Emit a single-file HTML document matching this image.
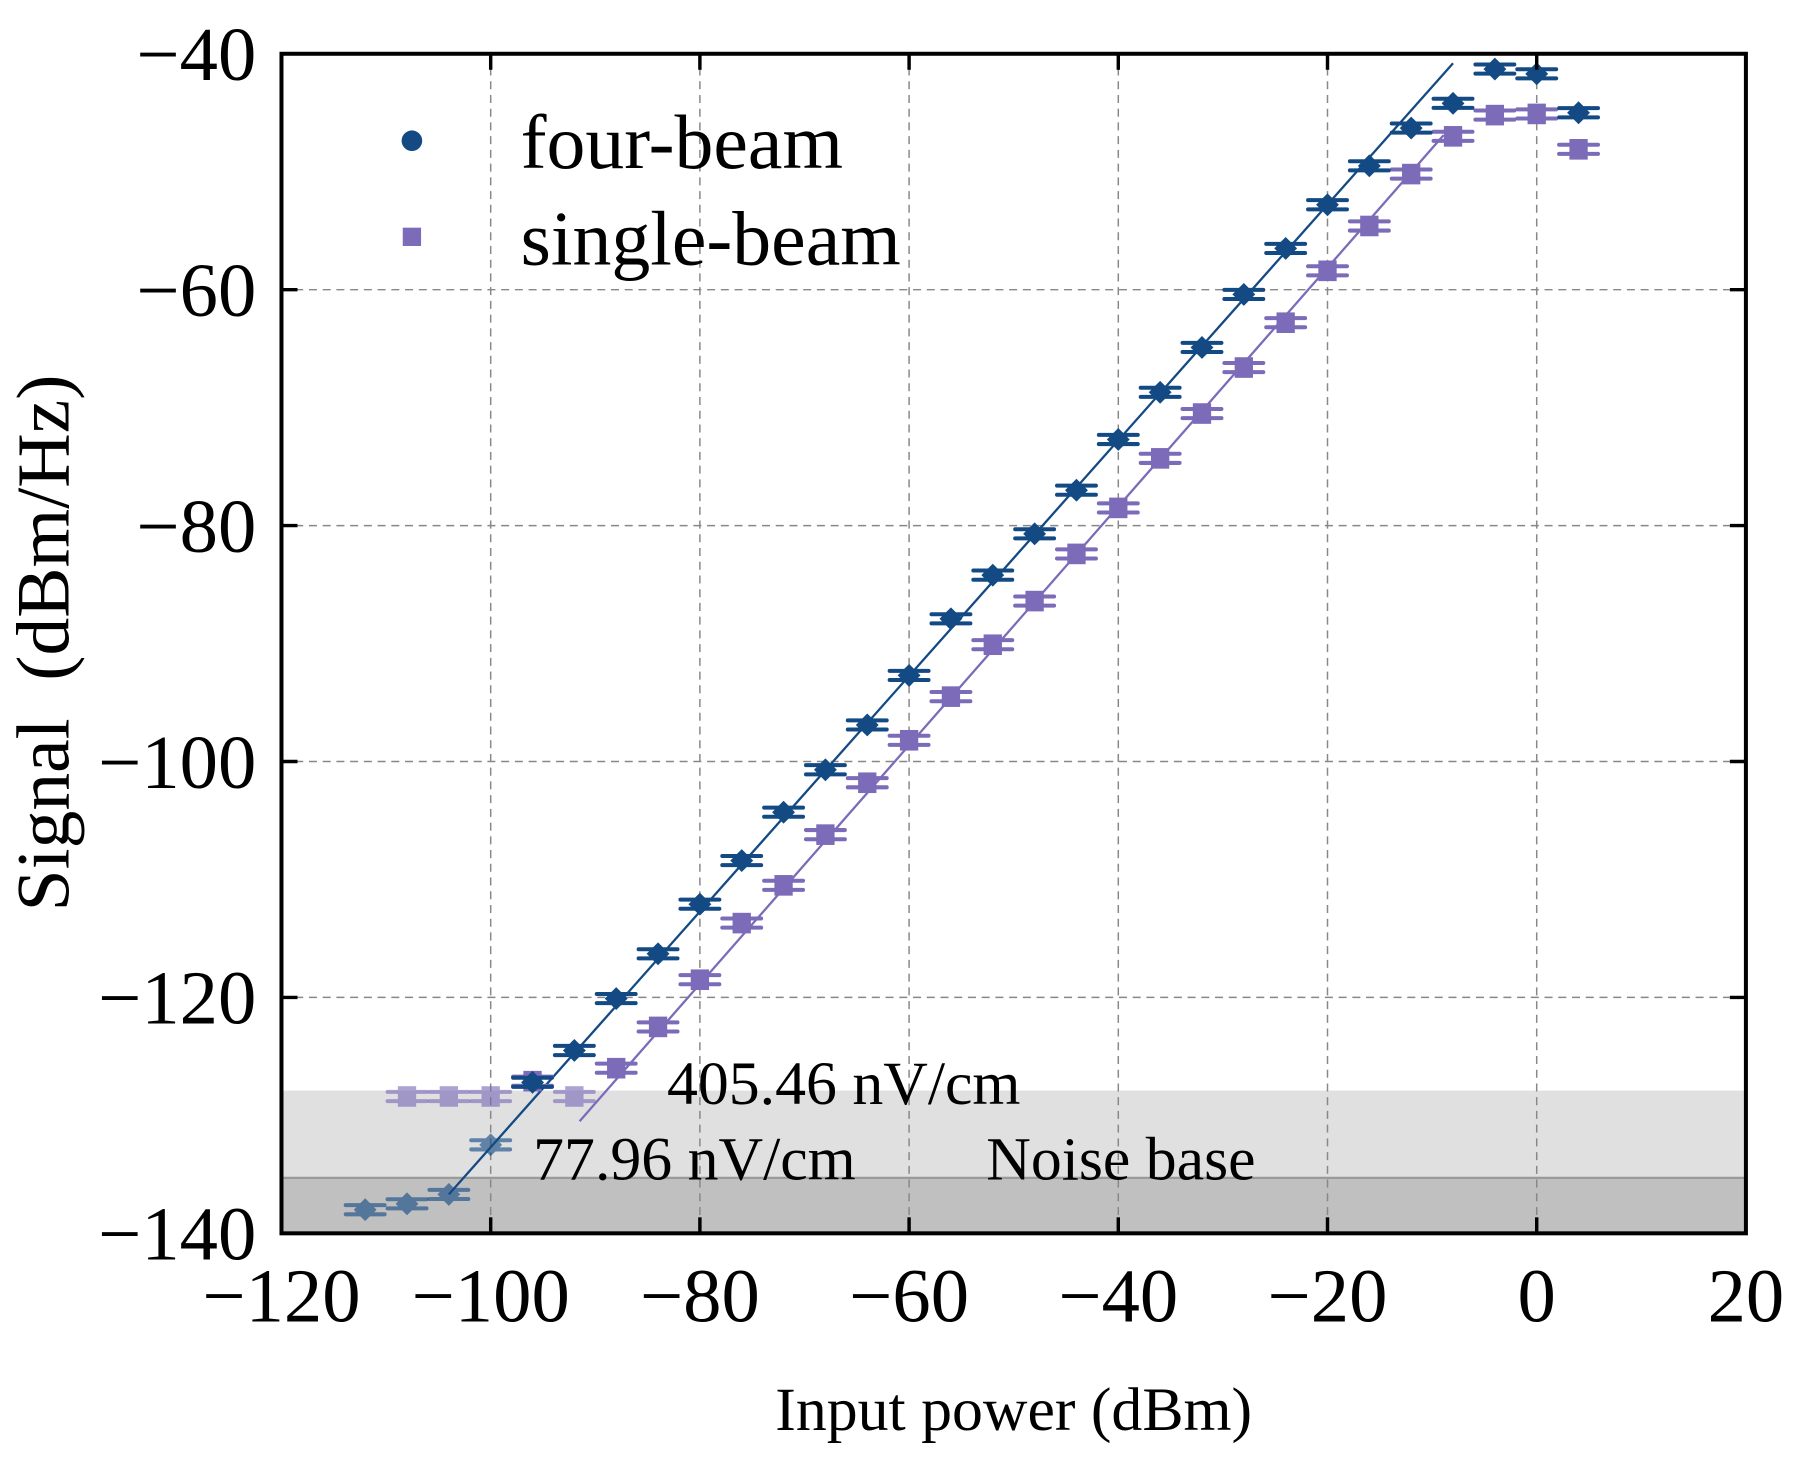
<!DOCTYPE html>
<html><head><meta charset="utf-8"><style>
html,body{margin:0;padding:0;background:#fff}
svg{display:block}
text{font-family:"Liberation Serif",serif;fill:#000}
</style></head><body>
<svg id="chart" width="1794" height="1461" viewBox="0 0 1568 1277" xmlns="http://www.w3.org/2000/svg">
<g id="bands"></g>
<g id="grid"></g>
<g id="fits"></g>
<g id="marks"></g>
<g id="axes"></g>
<g id="labels"></g>
</svg>
<script>
const xCats = [-112,-108,-104,-100,-96,-92,-88,-84,-80,-76,-72,-68,-64,-60,-56,-52,-48,-44,-40,-36,-32,-28,-24,-20,-16,-12,-8,-4,0,4];
const fourBeam = [-138.0,-137.5,-136.7,-132.5,-127.2,-124.5,-120.1,-116.3,-112.1,-108.4,-104.3,-100.7,-96.9,-92.7,-87.9,-84.2,-80.7,-77.0,-72.7,-68.7,-64.9,-60.4,-56.5,-52.8,-49.5,-46.3,-44.2,-41.3,-41.7,-45.0];
const singleX = [-108,-104,-100,-96,-92,-88,-84,-80,-76,-72,-68,-64,-60,-56,-52,-48,-44,-40,-36,-32,-28,-24,-20,-16,-12,-8,-4,0,4];
const singleBeam = [-128.4,-128.4,-128.4,-127.1,-128.4,-126.0,-122.5,-118.5,-113.7,-110.5,-106.2,-101.8,-98.2,-94.5,-90.1,-86.4,-82.4,-78.5,-74.3,-70.5,-66.6,-62.8,-58.4,-54.6,-50.2,-47.0,-45.2,-45.1,-48.1];
const fourFit = [[-104,-136.7],[-8,-40.8]];
const singleFit = [[-91.5,-130.5],[-8.9,-46.9]];
const xTicks = [-120,-100,-80,-60,-40,-20,0,20];
const yTicks = [-40,-60,-80,-100,-120,-140];
const noiseLevels = [-127.9,-135.3];

const L=246,R=1526,T=47,B=1078;
const X=v=>L+(v+120)/140*(R-L);
const Y=v=>T+(-40-v)/100*(B-T);
const NS='http://www.w3.org/2000/svg';
function mk(tag,attrs,parent){const e=document.createElementNS(NS,tag);for(const k in attrs)e.setAttribute(k,attrs[k]);parent.appendChild(e);return e;}
const g=id=>document.getElementById(id);

let b1=mk('rect',{x:L,y:Y(noiseLevels[0]),width:R-L,height:B-Y(noiseLevels[0]),fill:'#e0e0e0'},g('bands'));


let b2=mk('rect',{x:L,y:Y(noiseLevels[1]),width:R-L,height:B-Y(noiseLevels[1]),fill:'#c0c0c0'},g('bands'));


mk('line',{x1:L,x2:R,y1:Y(noiseLevels[1]),y2:Y(noiseLevels[1]),stroke:'#9a9a9a','stroke-width':2},g('bands'));

xTicks.slice(1,-1).forEach(v=>{const l=mk('line',{x1:X(v),x2:X(v),y1:T,y2:B,stroke:'#888','stroke-width':1.3,'stroke-dasharray':'7,5'},g('grid'));

});
yTicks.slice(1,-1).forEach(v=>{const l=mk('line',{x1:L,x2:R,y1:Y(v),y2:Y(v),stroke:'#888','stroke-width':1.3,'stroke-dasharray':'7,5'},g('grid'));

});

let f1=mk('line',{x1:X(fourFit[0][0]),y1:Y(fourFit[0][1]),x2:X(fourFit[1][0]),y2:Y(fourFit[1][1]),stroke:'#134a84','stroke-width':2},g('fits'));


let f2=mk('line',{x1:X(singleFit[0][0]),y1:Y(singleFit[0][1]),x2:X(singleFit[1][0]),y2:Y(singleFit[1][1]),stroke:'#7b6bb8','stroke-width':2},g('fits'));



function point(x,y,color,shape,name){
  const cx=X(x),cy=Y(y);
  const inNoise=y<noiseLevels[0];
  const gg=mk('g',{opacity:inNoise?0.62:1},g('marks'));
  
  
  mk('line',{x1:cx-17,x2:cx+17,y1:cy-4,y2:cy-4,stroke:color,'stroke-width':3.5,'stroke-linecap':'round'},gg);
  mk('line',{x1:cx-17,x2:cx+17,y1:cy+4,y2:cy+4,stroke:color,'stroke-width':3.5,'stroke-linecap':'round'},gg);
  if(shape==='d') mk('polygon',{points:`${cx},${cy-10} ${cx+10},${cy} ${cx},${cy+10} ${cx-10},${cy}`,fill:color},gg);
  else mk('rect',{x:cx-8,y:cy-9,width:16,height:18,fill:color},gg);
}
singleX.forEach((x,i)=>point(x,singleBeam[i],'#7b6bb8','s','single-beam-point'));
xCats.forEach((x,i)=>point(x,fourBeam[i],'#134a84','d','four-beam-point'));

const ax=g('axes');
let fr=mk('rect',{x:L,y:T,width:R-L,height:B-T,fill:'none',stroke:'#000','stroke-width':3.5},ax);


xTicks.slice(1,-1).forEach(v=>{mk('line',{x1:X(v),x2:X(v),y1:B,y2:B-14,stroke:'#000','stroke-width':3},ax);mk('line',{x1:X(v),x2:X(v),y1:T,y2:T+14,stroke:'#000','stroke-width':3},ax);});
yTicks.slice(1,-1).forEach(v=>{mk('line',{x1:L,x2:L+14,y1:Y(v),y2:Y(v),stroke:'#000','stroke-width':3},ax);mk('line',{x1:R,x2:R-14,y1:Y(v),y2:Y(v),stroke:'#000','stroke-width':3},ax);});

const lb=g('labels');
const fmt=v=>v<0?'\u2212'+(-v):String(v);
xTicks.forEach(v=>{const t=mk('text',{x:X(v),y:1155,'font-size':67,'text-anchor':'middle'},lb);t.textContent=fmt(v);

});
yTicks.forEach(v=>{const t=mk('text',{x:224,y:Y(v)+23,'font-size':67,'text-anchor':'end'},lb);t.textContent=fmt(v);

});
function txt(s,x,y,size,name,extra){const t=mk('text',Object.assign({x:x,y:y,'font-size':size},extra||{}),lb);t.textContent=s;

return t;}
txt('Input power (dBm)',886,1250,54,'x-axis-title',{'text-anchor':'middle'});
const yt=txt('Signal\u2002(dBm/Hz)',0,0,66,'y-axis-title',{'text-anchor':'middle',transform:'translate(60,562) rotate(-90)'});
txt('405.46 nV/cm',583,965,54,'annotation-single-beam-sensitivity');
txt('77.96 nV/cm',466,1031,54,'annotation-four-beam-sensitivity');
txt('Noise base',862,1031,54,'noise-base-label');
const lg=mk('g',{},lb);


mk('circle',{cx:360,cy:123,r:9,fill:'#134a84'},lg);
mk('rect',{x:352,y:199,width:16,height:16,fill:'#7b6bb8'},lg);
txt('four-beam',455,147,68,'legend-entry-four-beam');
txt('single-beam',455,231,68,'legend-entry-single-beam');
</script>
</body></html>
